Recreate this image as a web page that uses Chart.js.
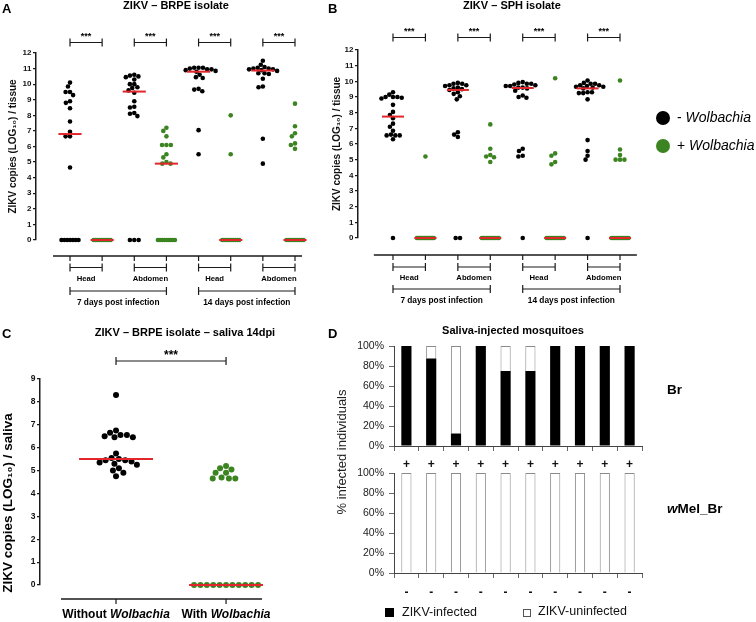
<!DOCTYPE html>
<html>
<head>
<meta charset="utf-8">
<title>ZIKV in Wolbachia mosquitoes</title>
<script src="https://cdn.jsdelivr.net/npm/chart.js@4.4.1/dist/chart.umd.min.js"></script>
<style>
	html, body { margin: 0; padding: 0; background: #fff; }
	#page { position: relative; width: 756px; height: 622px; overflow: hidden; }
	#page canvas { position: absolute; }
</style>
</head>
<body>
<div id="page">
	<canvas id="chartA" width="322" height="315" style="left:0;top:0"></canvas>
	<canvas id="chartB" width="434" height="315" style="left:322px;top:0"></canvas>
	<canvas id="chartC" width="322" height="307" style="left:0;top:315px"></canvas>
	<canvas id="chartDTop" width="434" height="307" style="left:322px;top:315px"></canvas>
	<canvas id="chartDBottom" width="434" height="182" style="left:322px;top:440px"></canvas>
</div>
<script>
var FONT = "'Liberation Sans', Arial, Helvetica, sans-serif";

var BLACK = '#000000';
var GREEN = '#3c8321';
var RED = '#e3262c';
var groupColors = [BLACK, GREEN];

var tissues = ['Head', 'Abdomen'];
var periods = ['7 days post infection', '14 days post infection'];
var wolbachiaLegend = ['- ', '+ '];
var stars = '***';

// A - ZIKV BRPE isolate, log10 copies per tissue (- / + Wolbachia)
var brpeHead7Neg = [10.1, 9.85, 9.5, 9.5, 9.3, 8.9, 8.8, 8.45, 7.6, 6.95, 6.65, 6.65, 4.65, 0, 0, 0, 0, 0, 0, 0];
var brpeHead7Pos = [0, 0, 0, 0, 0, 0, 0, 0, 0, 0];
var brpeAbd7Neg = [10.6, 10.55, 10.5, 10.45, 10.3, 10.0, 10.0, 9.8, 9.75, 9.6, 9.45, 8.9, 8.55, 8.5, 8.15, 8.1, 7.95, 0, 0, 0];
var brpeAbd7Pos = [7.2, 7.0, 6.65, 6.1, 6.1, 6.1, 5.5, 5.3, 5.0, 4.9, 4.9, 0, 0, 0, 0, 0, 0, 0, 0, 0];
var brpeHead14Neg = [11.05, 11.05, 11.05, 11.0, 10.95, 10.95, 10.9, 10.85, 10.8, 10.6, 10.45, 10.4, 9.7, 9.65, 9.55, 7.05, 5.5];
var brpeHead14Pos = [8.0, 5.5, 0, 0, 0, 0, 0, 0, 0, 0, 0, 0];
var brpeAbd14Neg = [11.5, 11.25, 11.1, 11.05, 11.0, 11.0, 10.95, 10.95, 10.9, 10.85, 10.7, 10.7, 10.65, 10.35, 9.85, 9.8, 6.5, 4.9];
var brpeAbd14Pos = [8.75, 7.3, 6.85, 6.65, 6.2, 6.1, 5.85, 0, 0, 0, 0, 0, 0, 0, 0, 0, 0];

// B - ZIKV SPH isolate
var sphHead7Neg = [9.3, 9.15, 9.0, 9.0, 9.0, 8.95, 8.9, 8.5, 8.05, 7.85, 7.65, 7.3, 7.1, 6.85, 6.6, 6.55, 6.55, 6.55, 6.3, 0];
var sphHead7Pos = [5.2, 0, 0, 0, 0, 0, 0, 0, 0, 0, 0, 0, 0, 0, 0, 0];
var sphAbd7Neg = [9.9, 9.85, 9.85, 9.75, 9.75, 9.7, 9.6, 9.55, 9.5, 9.45, 9.3, 9.2, 9.05, 8.85, 6.75, 6.6, 6.45, 0, 0];
var sphAbd7Pos = [7.25, 5.7, 5.3, 5.2, 5.15, 4.85, 0, 0, 0, 0, 0, 0, 0, 0, 0, 0, 0, 0];
var sphHead14Neg = [9.95, 9.9, 9.85, 9.85, 9.8, 9.75, 9.7, 9.7, 9.6, 9.6, 9.55, 9.4, 9.1, 9.0, 8.95, 5.7, 5.55, 5.25, 5.2, 0];
var sphHead14Pos = [10.2, 5.4, 5.25, 4.85, 4.7, 0, 0, 0, 0, 0, 0, 0, 0, 0, 0, 0, 0];
var sphAbd14Neg = [10.05, 9.9, 9.85, 9.85, 9.75, 9.75, 9.7, 9.65, 9.65, 9.6, 9.55, 9.3, 9.3, 9.25, 9.25, 8.85, 6.25, 5.55, 5.25, 5.0, 0];
var sphAbd14Pos = [10.05, 5.65, 5.3, 5.0, 5.0, 5.0, 0, 0, 0, 0, 0, 0, 0, 0, 0, 0, 0, 0];

// C - saliva 14 dpi
var salivaLabels = ['Without ', 'With '];
var salivaNeg = [8.3, 6.75, 6.65, 6.55, 6.55, 6.5, 6.45, 6.45, 5.75, 5.55, 5.5, 5.45, 5.45, 5.4, 5.35, 5.3, 5.25, 5.1, 5.0, 4.9, 4.75];
var salivaPos = [5.2, 5.1, 5.05, 4.9, 4.9, 4.7, 4.65, 4.65, 4.65, 0, 0, 0, 0, 0, 0, 0, 0, 0, 0, 0];

// D - saliva-injected mosquitoes, % of individuals
var brTicks = ['+', '+', '+', '+', '+', '+', '+', '+', '+', '+'];
var wmelTicks = ['-', '-', '-', '-', '-', '-', '-', '-', '-', '-'];
var brInfected = [100, 87.5, 12.5, 100, 75, 75, 100, 100, 100, 100];
var brUninfected = [0, 12.5, 87.5, 0, 25, 25, 0, 0, 0, 0];
var wmelInfected = [0, 0, 0, 0, 0, 0, 0, 0, 0, 0];
var wmelUninfected = [100, 100, 100, 100, 100, 100, 100, 100, 100, 100];
var legendD = ['ZIKV-infected', 'ZIKV-uninfected'];

Chart.defaults.font.family = FONT;
Chart.defaults.color = '#111';

function median(values) {
	var s = values.slice().sort(function(a, b) { return a - b; });
	var m = Math.floor(s.length / 2);
	return s.length % 2 ? s[m] : (s[m - 1] + s[m]) / 2;
}

// simple beeswarm: zeros go in one compact row, the rest get pushed sideways until they don't collide
function swarm(values, panel) {
	var out = values.map(function() { return 0; });
	var zeros = [];
	var rest = [];
	values.forEach(function(v, i) { (v === 0 ? zeros : rest).push(i); });

	var step = zeros.length > 1 ? Math.min(panel.gap, panel.maxRow / (zeros.length - 1)) : 0;
	zeros.forEach(function(idx, k) {
		out[idx] = (k - (zeros.length - 1) / 2) * step / panel.pxX;
	});

	rest.sort(function(a, b) { return values[b] - values[a]; });
	var placed = [];
	var g2 = panel.gap * panel.gap;
	rest.forEach(function(idx) {
		var y = values[idx] * panel.pxY;
		var cands = [0];
		placed.forEach(function(p) {
			var dy = y - p.y;
			if(Math.abs(dy) < panel.gap) {
				var dx = Math.sqrt(g2 - dy * dy);
				cands.push(p.x + dx, p.x - dx);
			}
		});
		cands.sort(function(a, b) { return (Math.abs(a) - Math.abs(b)) || (a - b); });
		var x = cands.find(function(c) {
			return placed.every(function(p) {
				var dx = c - p.x, dy = y - p.y;
				return dx * dx + dy * dy >= g2 - 0.01;
			});
		});
		placed.push({x: x, y: y});
		out[idx] = x / panel.pxX;
	});
	return out;
}

function text(ctx, str, x, y, font, align, baseline) {
	ctx.font = font + ' ' + FONT;
	ctx.textAlign = align;
	ctx.textBaseline = baseline;
	ctx.fillText(str, x, y);
}

function richText(ctx, parts, x, y, size, align) {
	var widths = parts.map(function(p) {
		ctx.font = p[1] + ' ' + size + 'px ' + FONT;
		return ctx.measureText(p[0]).width;
	});
	var total = widths.reduce(function(a, b) { return a + b; }, 0);
	var cx = align === 'center' ? x - total / 2 : x;
	ctx.textAlign = 'left';
	ctx.textBaseline = 'middle';
	parts.forEach(function(p, i) {
		ctx.font = p[1] + ' ' + size + 'px ' + FONT;
		ctx.fillText(p[0], cx, y);
		cx += widths[i];
	});
}

function vText(ctx, str, x, y, font) {
	ctx.save();
	ctx.translate(x, y);
	ctx.rotate(-Math.PI / 2);
	text(ctx, str, 0, 0, font, 'center', 'middle');
	ctx.restore();
}

function bracket(ctx, x1, x2, y, cap) {
	ctx.beginPath();
	ctx.moveTo(x1, y - cap); ctx.lineTo(x1, y + cap);
	ctx.moveTo(x2, y - cap); ctx.lineTo(x2, y + cap);
	ctx.moveTo(x1, y); ctx.lineTo(x2, y);
	ctx.stroke();
}

function offsetAxis(ctx, px, panel, count) {
	ctx.lineWidth = 1.5;
	ctx.beginPath();
	ctx.moveTo(px(panel.axisFrom), panel.axisY);
	ctx.lineTo(px(panel.axisTo), panel.axisY);
	ctx.stroke();
	ctx.lineWidth = 1.2;
	for(var c = 1; c <= count; c++) {
		ctx.beginPath();
		ctx.moveTo(px(c), panel.axisY);
		ctx.lineTo(px(c), panel.axisY + 5);
		ctx.stroke();
	}
}

// decorations for the tissue panels (A, B)
function tissueDecor(panel) {
	return {
		id: 'decor' + panel.letter,
		afterDraw: function(chart) {
			var ctx = chart.ctx;
			var xs = chart.scales.x;
			var px = function(v) { return xs.getPixelForValue(v); };
			ctx.save();
			ctx.fillStyle = '#000';
			ctx.strokeStyle = '#1a1a1a';

			text(ctx, panel.letter, panel.letterAt[0], panel.letterAt[1], 'bold 13px', 'left', 'top');
			text(ctx, panel.title, panel.titleAt[0], panel.titleAt[1], 'bold 11px', 'center', 'middle');

			ctx.lineWidth = 1.2;
			for(var c = 1; c < 8; c += 2) {
				bracket(ctx, px(c), px(c + 1), panel.starY, 4);
				text(ctx, stars, (px(c) + px(c + 1)) / 2, panel.starY - 4, 'bold 9px', 'center', 'alphabetic');
			}

			offsetAxis(ctx, px, panel, 8);

			ctx.lineWidth = 1.2;
			for(var t = 0; t < 4; t++) {
				var a = px(2 * t + 1), b = px(2 * t + 2);
				bracket(ctx, a, b, panel.subY, 4);
				text(ctx, tissues[t % 2], (a + b) / 2, panel.subY + 11, 'bold 7.7px', 'center', 'middle');
			}
			for(var p = 0; p < 2; p++) {
				var a2 = px(4 * p + 1), b2 = px(4 * p + 4);
				bracket(ctx, a2, b2, panel.periodY, 4);
				text(ctx, periods[p], (a2 + b2) / 2, panel.periodY + 11.5, 'bold 8.3px', 'center', 'middle');
			}

			if(panel.legend) {
				for(var k = 0; k < 2; k++) {
					var ly = panel.legend.y + k * 28;
					ctx.fillStyle = groupColors[k];
					ctx.beginPath();
					ctx.arc(panel.legend.x, ly, 7, 0, Math.PI * 2);
					ctx.fill();
					ctx.fillStyle = '#000';
					richText(ctx, [[wolbachiaLegend[k], 'normal'], ['Wolbachia', 'italic']], panel.legend.x + 14, ly, 14, 'left');
				}
			}
			ctx.restore();
		}
	};
}

function salivaDecor(panel) {
	return {
		id: 'decorC',
		afterDraw: function(chart) {
			var ctx = chart.ctx;
			var xs = chart.scales.x;
			var px = function(v) { return xs.getPixelForValue(v); };
			ctx.save();
			ctx.fillStyle = '#000';
			ctx.strokeStyle = '#1a1a1a';
			text(ctx, panel.letter, panel.letterAt[0], panel.letterAt[1], 'bold 13px', 'left', 'top');
			text(ctx, panel.title, panel.titleAt[0], panel.titleAt[1], 'bold 11px', 'center', 'middle');
			vText(ctx, 'ZIKV copies (LOG\u2081\u2080) / saliva', 8, 188, 'bold 13.5px');

			ctx.lineWidth = 1.2;
			bracket(ctx, px(1), px(2), panel.starY, 4);
			text(ctx, stars, (px(1) + px(2)) / 2, panel.starY - 2, 'bold 12px', 'center', 'alphabetic');

			offsetAxis(ctx, px, panel, 2);
			for(var c = 0; c < 2; c++) {
				richText(ctx, [[salivaLabels[c], 'bold'], ['Wolbachia', 'italic bold']], px(c + 1), 300, 12, 'center');
			}
			ctx.restore();
		}
	};
}

function dotChart(canvasId, groups, panel, decor) {
	var datasets = [];
	groups.forEach(function(values, i) {
		var cat = i + 1;
		var offsets = swarm(values, panel);
		var m = median(values);
		datasets.push({
			data: values.map(function(v, k) { return {x: cat + offsets[k], y: v}; }),
			pointRadius: panel.radius,
			pointBackgroundColor: groupColors[i % 2],
			pointBorderColor: groupColors[i % 2],
			pointBorderWidth: 0,
			clip: false,
			order: 2
		});
		datasets.push({
			data: [{x: cat - panel.medianHalf, y: m}, {x: cat + panel.medianHalf, y: m}],
			showLine: true,
			borderColor: RED,
			borderWidth: 2,
			pointRadius: 0,
			clip: false,
			order: 1
		});
	});

	return new Chart(document.getElementById(canvasId), {
		type: 'scatter',
		data: { datasets: datasets },
		options: {
			responsive: false,
			animation: false,
			events: [],
			layout: { padding: panel.padding },
			plugins: { legend: { display: false }, tooltip: { enabled: false } },
			scales: {
				x: { type: 'linear', display: false, min: panel.xMin, max: panel.xMax },
				y: {
					min: 0,
					max: panel.yMax,
					ticks: { stepSize: 1, font: { size: panel.tickSize, weight: 'bold' }, color: '#111', padding: 1.5 },
					grid: { drawOnChartArea: false, drawTicks: true, tickLength: 3, color: '#1a1a1a', lineWidth: 1.2 },
					border: { color: '#1a1a1a', width: 1.5 },
					title: {
						display: !!panel.yTitle,
						text: panel.yTitle,
						font: { size: 10, weight: 'bold' },
						color: '#111',
						padding: { top: 4, bottom: 0 }
					},
					afterFit: function(scale) { scale.width = panel.yWidth; }
				}
			}
		},
		plugins: [decor(panel)]
	});
}

function barChart(canvasId, infected, uninfected, tickLabels, panel, extra) {
	return new Chart(document.getElementById(canvasId), {
		type: 'bar',
		data: {
			labels: tickLabels,
			datasets: [
				{ label: legendD[0], data: infected, backgroundColor: BLACK, borderWidth: 0 },
				{ label: legendD[1], data: uninfected, backgroundColor: '#ffffff', borderColor: '#8a8a8a', borderWidth: 1 }
			]
		},
		options: {
			responsive: false,
			animation: false,
			events: [],
			layout: { padding: panel.padding },
			datasets: { bar: { barPercentage: 0.41, categoryPercentage: 1 } },
			plugins: { legend: { display: false }, tooltip: { enabled: false } },
			scales: {
				x: {
					stacked: true,
					grid: { offset: true, drawOnChartArea: false, tickLength: 5, color: '#666' },
					border: { color: '#444' },
					ticks: { font: { size: 12, weight: 'bold' }, color: '#111', padding: panel.tickPad, maxRotation: 0, autoSkip: false },
					afterFit: function(scale) { scale.height = 30; }
				},
				y: {
					stacked: true,
					min: 0,
					max: 100,
					ticks: { stepSize: 20, font: { size: 10.5 }, color: '#222', padding: 5,
						callback: function(v) { return v + '%'; } },
					grid: { drawOnChartArea: false, tickLength: 5, color: '#666' },
					border: { color: '#444' },
					afterFit: function(scale) { scale.width = 72; }
				}
			}
		},
		plugins: extra ? [extra] : []
	});
}

var panelA = {
	letter: 'A', letterAt: [2, 3], title: 'ZIKV \u2013 BRPE isolate', titleAt: [176, 6],
	yTitle: 'ZIKV copies (LOG\u2081\u2080) / tissue',
	padding: { left: 3, top: 53, right: 12, bottom: 75 }, yWidth: 33, yMax: 12, tickSize: 8,
	xMin: -0.058, xMax: 8.467, pxX: 32.14, pxY: 15.58,
	radius: 2.3, gap: 4.4, maxRow: 17, medianHalf: 0.36,
	starY: 42.5, axisY: 256, axisFrom: 0.47, axisTo: 8.22, subY: 267.5, periodY: 291
};

var panelB = {
	letter: 'B', letterAt: [6, 3], title: 'ZIKV \u2013 SPH isolate', titleAt: [190, 6],
	yTitle: 'ZIKV copies (LOG\u2081\u2080) / tissue',
	padding: { left: 5, top: 50, right: 126, bottom: 77 }, yWidth: 31, yMax: 12, tickSize: 8,
	xMin: -0.079, xMax: 8.308, pxX: 32.43, pxY: 15.67,
	radius: 2.3, gap: 4.4, maxRow: 17, medianHalf: 0.34,
	starY: 37.5, axisY: 255, axisFrom: 0.41, axisTo: 8.52, subY: 267, periodY: 289,
	legend: { x: 341, y: 118 }
};

var panelC = {
	letter: 'C', letterAt: [2, 13], title: 'ZIKV \u2013 BRPE isolate \u2013 saliva 14dpi', titleAt: [185, 18],
	yTitle: '',
	padding: { left: 0, top: 64, right: 47, bottom: 37 }, yWidth: 40, yMax: 9, tickSize: 8.5,
	xMin: 0.309, xMax: 2.445, pxX: 110, pxY: 22.89,
	radius: 3, gap: 6.4, maxRow: 64, medianHalf: 0.336,
	starY: 46, axisY: 284, axisFrom: 0.5, axisTo: 2.327
};

var decorD = {
	id: 'decorD',
	afterDraw: function(chart) {
		var ctx = chart.ctx;
		ctx.save();
		ctx.fillStyle = '#000';
		text(ctx, 'D', 6, 13, 'bold 13px', 'left', 'top');
		text(ctx, 'Saliva-injected mosquitoes', 191, 15.5, 'bold 11px', 'center', 'middle');
		ctx.fillStyle = '#222';
		vText(ctx, '% infected individuals', 20, 137, '13px');
		ctx.fillStyle = '#000';
		text(ctx, 'Br', 345, 75, 'bold 13.5px', 'left', 'middle');
		richText(ctx, [['w', 'italic bold'], ['Mel_Br', 'bold']], 345, 194, 13.5, 'left');

		ctx.fillRect(63, 293, 9, 9);
		ctx.fillStyle = '#fff';
		ctx.strokeStyle = '#555';
		ctx.lineWidth = 1;
		ctx.fillRect(201.5, 294.5, 7, 7);
		ctx.strokeRect(201.5, 294.5, 7, 7);
		ctx.fillStyle = '#111';
		text(ctx, legendD[0], 80, 298, '12.5px', 'left', 'middle');
		text(ctx, legendD[1], 216, 297, '12.5px', 'left', 'middle');
		ctx.restore();
	}
};

dotChart('chartA', [brpeHead7Neg, brpeHead7Pos, brpeAbd7Neg, brpeAbd7Pos,
	brpeHead14Neg, brpeHead14Pos, brpeAbd14Neg, brpeAbd14Pos], panelA, tissueDecor);
dotChart('chartB', [sphHead7Neg, sphHead7Pos, sphAbd7Neg, sphAbd7Pos,
	sphHead14Neg, sphHead14Pos, sphAbd14Neg, sphAbd14Pos], panelB, tissueDecor);
dotChart('chartC', [salivaNeg, salivaPos], panelC, salivaDecor);

barChart('chartDTop', brInfected, brUninfected, brTicks,
	{ padding: { left: 0, top: 31, right: 114, bottom: 146 }, tickPad: 6 }, decorD);
barChart('chartDBottom', wmelInfected, wmelUninfected, wmelTicks,
	{ padding: { left: 0, top: 33, right: 114, bottom: 19 }, tickPad: 7 });
</script>
</body>
</html>
